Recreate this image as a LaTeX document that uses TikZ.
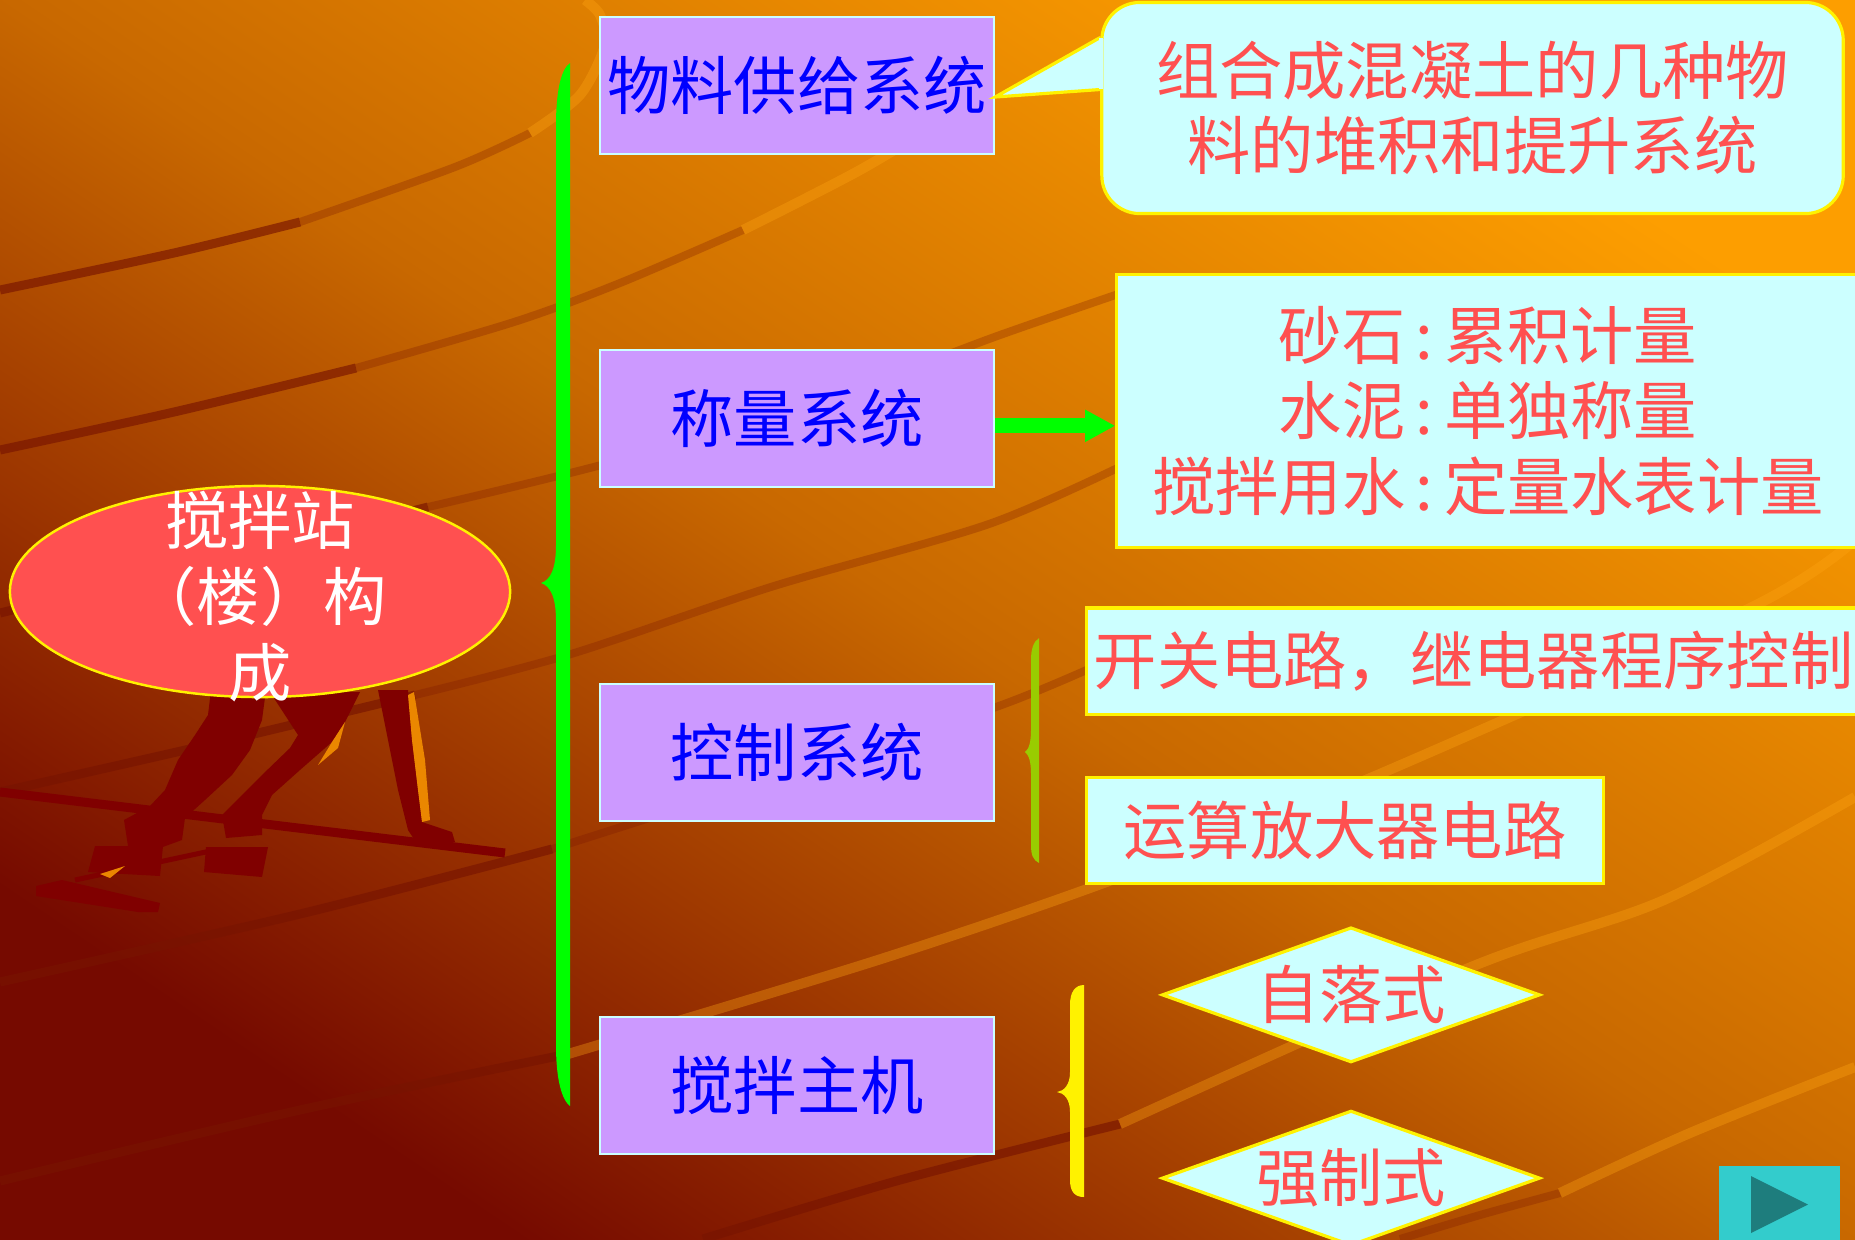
\documentclass[tikz,border=0pt]{standalone}
\usepackage{fontspec}
\newfontfamily\cjk{Noto Sans CJK SC}
\usetikzlibrary{positioning,shapes.geometric,arrows.meta}

\definecolor{bgdark}{RGB}{118,10,0}
\definecolor{bgmid}{RGB}{200,104,0}
\definecolor{bglight}{RGB}{253,158,0}
\definecolor{stripedark}{RGB}{120,20,0}
\definecolor{stripelight}{RGB}{255,165,20}
\definecolor{lilac}{RGB}{204,153,255}
\definecolor{paleblue}{RGB}{204,255,255}
\definecolor{salmon}{RGB}{255,80,80}
\definecolor{bracelime}{RGB}{153,204,0}
\definecolor{legred}{RGB}{128,0,0}
\definecolor{leghigh}{RGB}{235,135,0}
\definecolor{btnteal}{RGB}{51,204,204}
\definecolor{btndark}{RGB}{30,125,125}

\begin{document}
\begin{tikzpicture}[x=0.01cm, y=-0.01cm, node distance=1.94cm,
    font=\cjk\fontsize{18pt}{21.5pt}\selectfont,
    sysnode/.style={rectangle, draw=paleblue, fill=lilac, line width=0.6pt, text=blue, minimum width=3.94cm, minimum height=1.37cm, inner sep=0pt},
    infonode/.style={rectangle, draw=yellow, fill=paleblue, line width=0.9pt, text=salmon, align=center, inner sep=0pt},
    bubblenode/.style={infonode, rounded corners=0.38cm, minimum width=7.41cm, minimum height=2.11cm},
    typenode/.style={diamond, aspect=2.8, draw=yellow, fill=paleblue, line width=0.9pt, text=salmon, minimum width=3.78cm, minimum height=1.35cm, inner sep=0pt},
    stationnode/.style={ellipse, draw=yellow, fill=salmon, line width=0.7pt, minimum width=5cm, minimum height=2.11cm, inner sep=0pt},
    stationtext/.style={text=white, align=center, yshift=-0.05cm},
    btnnode/.style={rectangle, fill=btnteal, minimum width=1.21cm, minimum height=0.86cm, inner sep=0pt},
    darkstripe/.style={draw=stripedark, line width=0.09cm, opacity=0.65},
    softstripe/.style={draw=stripedark, line width=0.08cm, opacity=0.28},
    lightstripe/.style={draw=stripelight, line width=0.1cm, opacity=0.35},
    greenarrow/.style={draw=green, line width=0.15cm, -{Triangle[length=0.3cm, width=0.3cm]}},
  ]
  \useasboundingbox (0,0) rectangle (1855,1239);
  \clip (0,0) rectangle (1855,1239);

  %Background
  \shade[bottom color=bgdark, top color=bglight, middle color=bgmid, shading angle=-34] (0,0) rectangle (1855,1239);
  \draw[darkstripe] plot[smooth] coordinates {(0,290) (174,253) (300,222)};
  \draw[softstripe] plot[smooth] coordinates {(300,222) (455,167) (530,133)};
  \draw[lightstripe] plot[smooth] coordinates {(530,133) (580,95) (605,45) (600,15) (585,0)};
  \draw[darkstripe] plot[smooth] coordinates {(0,450) (174,412) (356,368)};
  \draw[softstripe] plot[smooth] coordinates {(356,368) (514,322) (620,283) (743,230)};
  \draw[lightstripe] plot[smooth] coordinates {(743,230) (860,170) (960,110)};
  \draw[darkstripe] plot[smooth] coordinates {(0,613) (250,552) (428,507)};
  \draw[softstripe] plot[smooth] coordinates {(428,507) (620,460) (850,390) (1000,335) (1130,290)};
  \draw[darkstripe] plot[smooth] coordinates {(0,792) (220,742) (415,695)};
  \draw[softstripe] plot[smooth] coordinates {(415,695) (571,654) (774,586) (989,524) (1130,462)};
  \draw[darkstripe] plot[smooth] coordinates {(0,982) (300,914) (552,849)};
  \draw[softstripe] plot[smooth] coordinates {(552,849) (800,770) (996,707) (1100,664)};
  \draw[darkstripe] plot[smooth] coordinates {(0,1181) (300,1110) (568,1054)};
  \draw[lightstripe] plot[smooth] coordinates {(568,1054) (881,959) (1120,877) (1382,773) (1752,607) (1855,540)};
  \draw[darkstripe] plot[smooth] coordinates {(703,1239) (900,1180) (1120,1124)};
  \draw[lightstripe] plot[smooth] coordinates {(1120,1124) (1471,967) (1664,900) (1855,797)};
  \draw[softstripe] plot[smooth] coordinates {(1400,1239) (1480,1215) (1560,1193)};
  \draw[lightstripe] plot[smooth] coordinates {(1560,1193) (1690,1133) (1855,1067)};

  %Runner
  \fill[legred] (211,690) -- (266,690) -- (262,720) -- (250,750) -- (232,775) -- (205,800) -- (185,818) -- (182,840) -- (160,848) -- (128,846) -- (124,820) -- (150,806) -- (165,790) -- (178,760) -- (195,735) -- (208,715) -- cycle;
  \fill[legred] (270,692) -- (360,692) -- (345,722) -- (332,742) -- (300,770) -- (272,795) -- (262,815) -- (262,835) -- (226,838) -- (222,815) -- (240,797) -- (262,775) -- (290,748) -- (298,735) -- cycle;
  \fill[leghigh] (332,742) -- (345,722) -- (338,748) -- (318,765) -- cycle;
  \fill[legred] (378,690) -- (408,690) -- (412,740) -- (418,790) -- (422,822) -- (452,832) -- (455,842) -- (418,845) -- (408,830) -- (398,790) -- (388,740) -- cycle;
  \fill[leghigh] (408,695) -- (414,692) -- (425,760) -- (430,820) -- (422,822) -- (418,790) -- (412,740) -- cycle;
  \fill[legred] (95,846) -- (163,846) -- (160,876) -- (88,872) -- cycle;
  \fill[legred] (206,847) -- (268,847) -- (262,877) -- (204,872) -- cycle;
  \fill[legred] (36,886) -- (62,880) -- (160,903) -- (158,912) -- (138,912) -- (36,896) -- cycle;
  \draw[legred, line width=0.09cm] (0,792) -- (505,853);
  \draw[legred, line width=0.05cm] (75,880) -- (215,850);
  \fill[leghigh] (100,874) -- (125,866) -- (110,878) -- cycle;

  %Braces
  \fill[green] (570,63) .. controls (560,70) and (556,95) .. (556,125) -- (556,545) .. controls (556,570) and (550,580) .. (541,583) .. controls (550,586) and (556,596) .. (556,621) -- (556,1045) .. controls (556,1080) and (562,1100) .. (570,1106) -- cycle;
  \fill[bracelime] (1039,638) .. controls (1033,642) and (1031,650) .. (1031,660) -- (1031,730) .. controls (1031,742) and (1029,749) .. (1025,752) .. controls (1029,755) and (1031,762) .. (1031,774) -- (1031,845) .. controls (1031,855) and (1033,860) .. (1039,863) -- cycle;
  \fill[yellow] (1084,985) .. controls (1075,985) and (1070,992) .. (1070,1005) -- (1070,1072) .. controls (1070,1085) and (1064,1091) .. (1057,1092) .. controls (1064,1093) and (1070,1099) .. (1070,1112) -- (1070,1180) .. controls (1070,1192) and (1075,1197) .. (1084,1197) -- cycle;

  %Nodes
  \node[stationnode, label={[stationtext]center:搅拌站\\（楼）构\\成}] (station) at (260,591.5) {};
  \node[sysnode] (sup) at (797,85.5) {物料供给系统};
  \node[sysnode, below=of sup] (wgh) {称量系统};
  \node[sysnode, below=of wgh] (ctl) {控制系统};
  \node[sysnode, below=of ctl] (mix) {搅拌主机};
  \node[bubblenode, right=1.05cm of sup, yshift=-0.225cm] (supinfo) {组合成混凝土的几种物\\料的堆积和提升系统};
  \node[infonode, right=1.2cm of wgh, yshift=0.08cm, minimum width=7.42cm, minimum height=2.73cm] (wghinfo) {砂石\,:\,累积计量\\水泥\,:\,单独称量\\搅拌用水\,:\,定量水表计量};
  \node[infonode, right=0.9cm of ctl, yshift=0.91cm, minimum width=7.73cm, minimum height=1.06cm] (ctla) {开关电路，继电器程序控制};
  \node[infonode, below=0.6cm of ctla.south west, anchor=north west, minimum width=5.16cm, minimum height=1.06cm] (ctlb) {运算放大器电路};
  \node[typenode, right=1.65cm of mix, yshift=0.905cm] (fall) {自落式};
  \node[typenode, below=0.45cm of fall] (force) {强制式};
  \node[btnnode] (next) at (1779.5,1209) {};
  \fill[btndark] (1751,1176) -- (1808,1204.5) -- (1751,1233) -- cycle;

  %Lines
  \filldraw[draw=yellow, fill=paleblue, line width=0.9pt] ([yshift=0.705cm]supinfo.west) -- ([yshift=-0.115cm]sup.east) -- ([yshift=0.185cm]supinfo.west);
  \fill[paleblue] ([xshift=-0.016cm, yshift=0.195cm]supinfo.west) rectangle ([xshift=0.03cm, yshift=0.695cm]supinfo.west);
  \coordinate (wghout) at ([yshift=-0.07cm]wgh.east);
  \draw[greenarrow] (wghout) -- (wghout -| wghinfo.west);
\end{tikzpicture}
\end{document}
